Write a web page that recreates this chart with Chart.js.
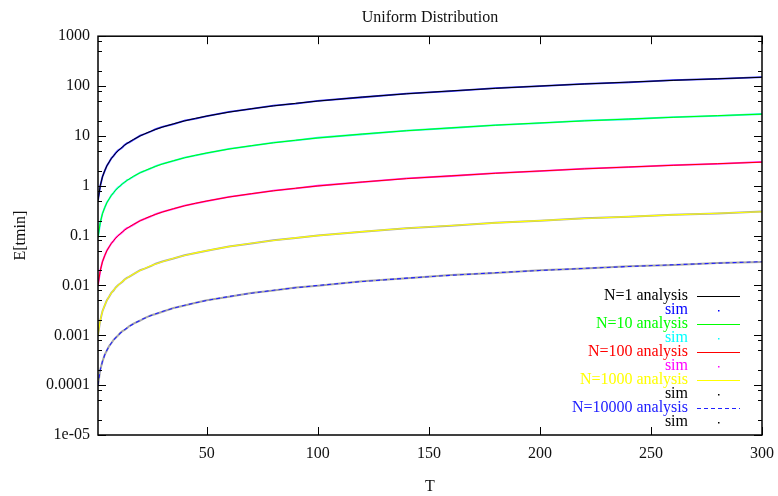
<!DOCTYPE html>
<html>
<head>
<meta charset="utf-8">
<title>Uniform Distribution</title>
<script src="https://cdn.jsdelivr.net/npm/chart.js@4.4.1/dist/chart.umd.min.js"></script>
<style>
  html, body { margin: 0; padding: 0; background: #fff; }
</style>
</head>
<body>
<canvas id="myChart" width="778" height="496"></canvas>
<script>
// sample points along T
const tValues = [1, 2, 3, 4, 5, 6, 7, 8, 9, 10, 11, 12, 13, 14, 15, 17, 20, 22, 25, 27, 30, 35, 40, 45, 50, 60, 70, 80, 90, 100, 120, 140, 160, 180, 200, 220, 240, 260, 280, 300];

// analysis curves
const analysisN1 = [0.5, 1, 1.5, 2, 2.5, 3, 3.5, 4, 4.5, 5, 5.5, 6, 6.5, 7, 7.5, 8.5, 10, 11, 12.5, 13.5, 15, 17.5, 20, 22.5, 25, 30, 35, 40, 45, 50, 60, 70, 80, 90, 100, 110, 120, 130, 140, 150];
const analysisN10 = [0.091, 0.182, 0.273, 0.364, 0.455, 0.545, 0.636, 0.727, 0.818, 0.909, 1.0, 1.09, 1.18, 1.27, 1.36, 1.55, 1.82, 2.0, 2.27, 2.45, 2.73, 3.18, 3.64, 4.09, 4.55, 5.45, 6.36, 7.27, 8.18, 9.09, 10.9, 12.7, 14.5, 16.4, 18.2, 20, 21.8, 23.6, 25.5, 27.3];
const analysisN100 = [0.0099, 0.0198, 0.0297, 0.0396, 0.0495, 0.0594, 0.0693, 0.0792, 0.0891, 0.099, 0.109, 0.119, 0.129, 0.139, 0.149, 0.168, 0.198, 0.218, 0.248, 0.267, 0.297, 0.347, 0.396, 0.446, 0.495, 0.594, 0.693, 0.792, 0.891, 0.99, 1.19, 1.39, 1.58, 1.78, 1.98, 2.18, 2.38, 2.57, 2.77, 2.97];
const analysisN1000 = [0.001, 0.002, 0.003, 0.004, 0.005, 0.006, 0.007, 0.008, 0.009, 0.01, 0.011, 0.012, 0.013, 0.014, 0.015, 0.017, 0.02, 0.022, 0.025, 0.027, 0.03, 0.035, 0.04, 0.045, 0.05, 0.06, 0.07, 0.08, 0.09, 0.1, 0.12, 0.14, 0.16, 0.18, 0.2, 0.22, 0.24, 0.26, 0.28, 0.3];
const analysisN10000 = [0.0001, 0.0002, 0.0003, 0.0004, 0.0005, 0.0006, 0.0007, 0.0008, 0.0009, 0.001, 0.0011, 0.0012, 0.0013, 0.0014, 0.0015, 0.0017, 0.002, 0.0022, 0.0025, 0.0027, 0.003, 0.0035, 0.004, 0.0045, 0.005, 0.006, 0.007, 0.008, 0.009, 0.01, 0.012, 0.014, 0.016, 0.018, 0.02, 0.022, 0.024, 0.026, 0.028, 0.03];

// simulation points (slightly noisy around the curves)
const simN1 = [0.51, 0.98, 1.52, 1.97, 2.53, 2.96, 3.55, 3.97, 4.56, 5.08, 5.44, 5.93, 6.58, 7.1, 7.42, 8.4, 10.1, 10.9, 12.4, 13.7, 15.2, 17.3, 20.2, 22.3, 24.8, 30.3, 34.7, 40.4, 44.6, 50.5, 59.6, 70.6, 79.4, 90.7, 99.3, 111, 119, 131, 139, 151];
const simN10 = [0.093, 0.179, 0.277, 0.359, 0.461, 0.539, 0.644, 0.719, 0.83, 0.92, 0.99, 1.1, 1.17, 1.29, 1.35, 1.53, 1.84, 1.98, 2.25, 2.48, 2.76, 3.15, 3.68, 4.05, 4.5, 5.51, 6.3, 7.35, 8.1, 9.18, 10.8, 12.8, 14.4, 16.5, 18.0, 20.2, 21.6, 23.8, 25.3, 27.5];
const simN100 = [0.0101, 0.0195, 0.0301, 0.0391, 0.0502, 0.0588, 0.0701, 0.0785, 0.0902, 0.1, 0.108, 0.118, 0.131, 0.141, 0.147, 0.166, 0.2, 0.216, 0.245, 0.27, 0.3, 0.344, 0.4, 0.441, 0.49, 0.6, 0.687, 0.8, 0.883, 1.0, 1.18, 1.4, 1.57, 1.8, 1.96, 2.2, 2.36, 2.6, 2.75, 3.0];
const simN1000 = [0.00102, 0.00197, 0.00304, 0.00395, 0.00507, 0.00593, 0.00708, 0.00792, 0.00912, 0.0101, 0.0109, 0.0119, 0.0132, 0.0142, 0.0148, 0.0168, 0.0202, 0.0218, 0.0247, 0.0273, 0.0303, 0.0346, 0.0404, 0.0446, 0.0495, 0.0606, 0.0693, 0.0808, 0.0891, 0.101, 0.119, 0.141, 0.158, 0.182, 0.198, 0.222, 0.238, 0.263, 0.277, 0.303];
const simN10000 = [0.000098, 0.000203, 0.000296, 0.000405, 0.000494, 0.000607, 0.000692, 0.000809, 0.000893, 0.00099, 0.00111, 0.00121, 0.00128, 0.00139, 0.00152, 0.00172, 0.00198, 0.00221, 0.00253, 0.00268, 0.00297, 0.00354, 0.00396, 0.00451, 0.00506, 0.00594, 0.00708, 0.00792, 0.0091, 0.0099, 0.0121, 0.0139, 0.0162, 0.0178, 0.0202, 0.0218, 0.0243, 0.0257, 0.0283, 0.0297];

const seriesLabels = ['N=1 analysis', 'sim', 'N=10 analysis', 'sim', 'N=100 analysis', 'sim', 'N=1000 analysis', 'sim', 'N=10000 analysis', 'sim'];
const seriesValues = [analysisN1, simN1, analysisN10, simN10, analysisN100, simN100, analysisN1000, simN1000, analysisN10000, simN10000];

const xTickValues = [50, 100, 150, 200, 250, 300];
const yMajorTicks = [1e-5, 1e-4, 1e-3, 1e-2, 1e-1, 1, 10, 100, 1000];
const yTickLabels = ['1e-05', '0.0001', '0.001', '0.01', '0.1', '1', '10', '100', '1000'];
const yMinorSteps = [2, 5, 8];

// line / legend styles, same order as seriesLabels
const styles = [
  { line: '#000000', text: '#000000', width: 1, kind: 'line' },
  { line: 'rgba(20,20,255,0.9)', text: '#0000ff', width: 1.8, kind: 'dot' },
  { line: '#00ff00', text: '#00ff00', width: 1, kind: 'line' },
  { line: 'rgba(0,240,240,0.9)', text: '#00ffff', width: 1.8, kind: 'dot' },
  { line: '#ff0000', text: '#ff0000', width: 1, kind: 'line' },
  { line: 'rgba(255,0,255,0.85)', text: '#ff00ff', width: 1.8, kind: 'dot' },
  { line: '#ffff00', text: '#ffff00', width: 1.1, kind: 'line' },
  { line: 'rgba(0,0,0,0.35)', text: '#000000', width: 2, kind: 'dot' },
  { line: '#2020ff', text: '#2020ff', width: 1.1, kind: 'dash' },
  { line: 'rgba(0,0,0,0.35)', text: '#000000', width: 2, kind: 'dot' }
];

const FONT = 'Liberation Serif';

const framePlugin = {
  id: 'frame',
  afterDatasetsDraw(chart) {
    const { ctx, chartArea: a, scales: { x, y } } = chart;
    ctx.save();
    ctx.strokeStyle = '#000';
    ctx.lineWidth = 1;
    ctx.beginPath();
    y.ticks.forEach(t => {
      const py = Math.round(y.getPixelForValue(t.value)) + 0.5;
      const len = t.isMajor ? 8 : 4;
      ctx.moveTo(a.left, py); ctx.lineTo(a.left + len, py);
      ctx.moveTo(a.right, py); ctx.lineTo(a.right - len, py);
    });
    x.ticks.forEach(t => {
      const px = Math.round(x.getPixelForValue(t.value)) + 0.5;
      ctx.moveTo(px, a.bottom); ctx.lineTo(px, a.bottom - 8);
      ctx.moveTo(px, a.top); ctx.lineTo(px, a.top + 8);
    });
    ctx.stroke();
    ctx.lineWidth = 1.5;
    ctx.strokeRect(a.left, a.top, a.right - a.left, a.bottom - a.top);
    ctx.restore();
  }
};

// gnuplot style key: right aligned text, sample to the right
const keyPlugin = {
  id: 'gnuKey',
  afterDraw(chart) {
    const { ctx, chartArea: a } = chart;
    ctx.save();
    ctx.font = '16px "' + FONT + '"';
    ctx.textAlign = 'right';
    ctx.textBaseline = 'middle';
    chart.data.datasets.forEach((ds, i) => {
      const st = styles[i];
      const yy = a.bottom - 139 + i * 14;
      ctx.fillStyle = st.text;
      ctx.fillText(ds.label, a.right - 74, yy);
      if (st.kind === 'dot') {
        ctx.fillRect(a.right - 44, Math.round(yy), 1.5, 1.5);
      } else {
        ctx.strokeStyle = st.line;
        ctx.lineWidth = 1.2;
        ctx.setLineDash(st.kind === 'dash' ? [4, 3] : []);
        ctx.beginPath();
        ctx.moveTo(a.right - 65, Math.round(yy) + 0.5);
        ctx.lineTo(a.right - 22, Math.round(yy) + 0.5);
        ctx.stroke();
        ctx.setLineDash([]);
      }
    });
    ctx.restore();
  }
};

const datasets = seriesLabels.map((label, i) => ({
  label: label,
  data: tValues.map((t, j) => ({ x: t, y: seriesValues[i][j] })),
  borderColor: styles[i].line,
  borderWidth: styles[i].width,
  borderDash: styles[i].kind === 'dash' ? [4, 3] : [],
  pointRadius: 0,
  fill: false,
  tension: 0,
  // analysis lines on top of the sim traces
  order: styles[i].kind === 'dot' ? 1 : 0
}));

new Chart(document.getElementById('myChart'), {
  type: 'line',
  data: { datasets: datasets },
  options: {
    responsive: false,
    animation: false,
    devicePixelRatio: 1,
    layout: { padding: { left: 0, right: 16, top: 0, bottom: 0 } },
    scales: {
      x: {
        type: 'linear',
        min: 1,
        max: 300,
        afterBuildTicks: (scale) => { scale.ticks = xTickValues.map(v => ({ value: v })); },
        afterFit: (scale) => { scale.height = 61; scale.paddingRight = 0; scale.paddingLeft = 0; },
        grid: { display: false, drawTicks: false },
        border: { display: false },
        ticks: { color: '#111', font: { family: FONT, size: 16 }, padding: 9, maxRotation: 0, autoSkip: false },
        title: { display: true, text: 'T', color: '#111', font: { family: FONT, size: 16 }, padding: { top: 0, bottom: 0 } }
      },
      y: {
        type: 'logarithmic',
        min: 1e-5,
        max: 1000,
        afterBuildTicks: (scale) => {
          const ticks = [];
          yMajorTicks.forEach((m, k) => {
            ticks.push({ value: m, isMajor: true, text: yTickLabels[k] });
            if (k < yMajorTicks.length - 1) yMinorSteps.forEach(s => ticks.push({ value: m * s, isMajor: false }));
          });
          scale.ticks = ticks;
        },
        afterFit: (scale) => { scale.width = 98; },
        grid: { display: false, drawTicks: false },
        border: { display: false },
        ticks: {
          color: '#111',
          font: { family: FONT, size: 16 },
          padding: 8,
          autoSkip: false,
          callback: (value, index, ticks) => ticks[index].isMajor ? ticks[index].text : ''
        },
        title: { display: true, text: 'E[tmin]', color: '#111', font: { family: FONT, size: 16 }, padding: { top: 11, bottom: 0 } }
      }
    },
    plugins: {
      legend: { display: false },
      tooltip: { enabled: false },
      title: {
        display: true,
        text: 'Uniform Distribution',
        color: '#111',
        fullSize: false,
        font: { family: FONT, size: 16, weight: 'normal' },
        padding: { top: 8, bottom: 9 }
      }
    }
  },
  plugins: [framePlugin, keyPlugin]
});
</script>
</body>
</html>
